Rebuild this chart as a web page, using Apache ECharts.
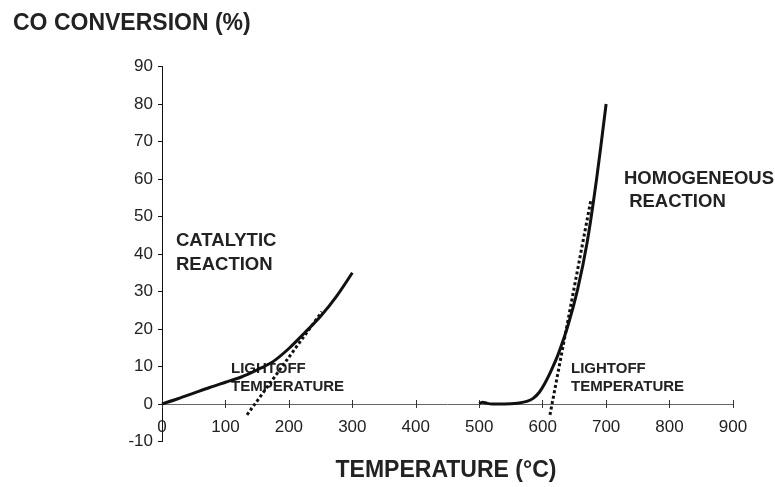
<!DOCTYPE html>
<html><head><meta charset="utf-8">
<script src="https://cdn.jsdelivr.net/npm/echarts@6/dist/echarts.min.js"></script>
<style>html,body{margin:0;padding:0;background:#fff}#c{width:775px;height:487px}</style>
</head><body><div id="c"></div>
<script>
var xTicks = [0,100,200,300,400,500,600,700,800,900];
var yTicks = [-10,0,10,20,30,40,50,60,70,80,90];
var catalyticX = [0,25,50,75,100,125,150,175,200,225,250,275,300];
var catalyticY = [0,1.4,2.9,4.4,5.8,7.2,9.1,11.3,14.8,19.0,23.4,28.7,35];
var catalyticTangentX = [134,252];
var catalyticTangentY = [-2.9,24.6];
var homogeneousX = [500,505,512,520,540,560,575,585,595,605,615,625,640,655,670,685,700];
var homogeneousY = [0.1,0.5,0.2,0,0,0.2,0.7,1.5,3.2,6,9.5,13.5,21,30.5,43,60,80];
var homogeneousTangentX = [611.5,676];
var homogeneousTangentY = [-2.9,54.4];

function zip(a,b){return a.map(function(v,i){return [v,b[i]];});}
var FONT = 'Liberation Sans, Arial, sans-serif';
var chart = echarts.init(document.getElementById('c'), null, {renderer:'canvas'});
var X_OFFSET = -37.5; // distance from grid bottom (-10) up to the zero line
chart.setOption({
  animation:false,
  backgroundColor:'#fff',
  grid: {left:162, right:42, top:66.5, bottom:45.5, containLabel:false},
  xAxis:[{
    type:'value', min:0, max:900, interval:100, position:'bottom', offset:X_OFFSET,
    axisLine:{show:true, onZero:false, lineStyle:{color:'#666', width:1}},
    axisTick:{show:true, length:4, lineStyle:{color:'#333'}},
    axisLabel:{margin:15, fontSize:17, color:'#222', fontFamily:FONT,
      formatter:function(v){return xTicks.indexOf(v)>=0?String(v):'';}},
    splitLine:{show:false}
  },{
    type:'value', min:0, max:900, interval:100, position:'bottom', offset:X_OFFSET,
    axisLine:{show:false, onZero:false},
    axisTick:{show:true, inside:true, length:4, lineStyle:{color:'#333'}},
    axisLabel:{show:false}, splitLine:{show:false}
  }],
  yAxis:{
    type:'value', min:-10, max:90, interval:10,
    axisLine:{show:true, lineStyle:{color:'#111', width:1}},
    axisTick:{show:true, length:4, lineStyle:{color:'#111'}},
    axisLabel:{margin:9, fontSize:17, color:'#222', fontFamily:FONT,
      formatter:function(v){return yTicks.indexOf(v)>=0?String(v):'';}},
    splitLine:{show:false}
  },
  series:[
    {type:'line', data:zip(catalyticX,catalyticY), smooth:0.3, symbol:'none',
     lineStyle:{color:'#111', width:3}},
    {type:'line', data:zip(catalyticTangentX,catalyticTangentY), symbol:'none',
     lineStyle:{color:'#111', width:3, type:[3,2.5]}},
    {type:'line', data:zip(homogeneousX,homogeneousY), smooth:0.3, symbol:'none',
     lineStyle:{color:'#111', width:3}},
    {type:'line', data:zip(homogeneousTangentX,homogeneousTangentY), symbol:'none',
     lineStyle:{color:'#111', width:3, type:[3,2.5]}}
  ],
  graphic:[
    {type:'text', left:13, top:12, style:{text:'CO CONVERSION (%)', font:'bold 23px '+FONT, fill:'#222'}},
    {type:'text', x:446, y:471, style:{text:'TEMPERATURE (°C)', font:'bold 23px '+FONT, fill:'#222', align:'center', verticalAlign:'middle'}},
    {type:'text', left:176, top:229, style:{text:'CATALYTIC\nREACTION', font:'bold 18.5px '+FONT, fill:'#222', lineHeight:24}},
    {type:'text', left:624, top:167, style:{text:'HOMOGENEOUS\n REACTION', font:'bold 18.5px '+FONT, fill:'#222', lineHeight:23}},
    {type:'text', left:231, top:360, style:{text:'LIGHTOFF\nTEMPERATURE', font:'bold 15px '+FONT, fill:'#222', lineHeight:18}},
    {type:'text', left:571, top:360, style:{text:'LIGHTOFF\nTEMPERATURE', font:'bold 15px '+FONT, fill:'#222', lineHeight:18}}
  ]
});
</script></body></html>
